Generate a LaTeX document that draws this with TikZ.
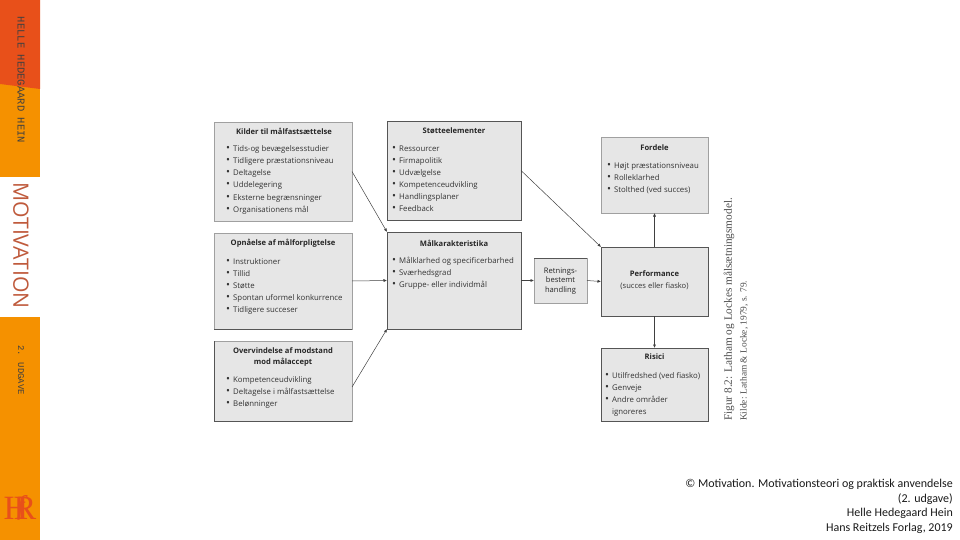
\documentclass[tikz,border=0pt]{standalone}
\usepackage{fontspec}
\setmainfont{Open Sans}
\newfontfamily\foot{Carlito}
\newfontfamily\capt{Liberation Serif}
\newfontfamily\spine{Liberation Mono}
\usetikzlibrary{arrows.meta}
\definecolor{sOrange}{HTML}{F59100}
\definecolor{sRed}{HTML}{E8501A}
\definecolor{sMotiv}{HTML}{BF5A3C}
\definecolor{boxFill}{HTML}{E6E6E6}
\definecolor{boxLine}{HTML}{555555}
\definecolor{boxSoft}{HTML}{A0A0A0}
\newcommand{\bl}{\makebox[7pt][l]{{\fontsize{10.5}{12}\selectfont\textbullet}}}
\tikzset{
  x=1pt,y=-1pt,
  fbox/.style={draw=boxLine,fill=boxFill,line width=0.7pt,inner sep=0pt,outer sep=0pt,anchor=north west},
  softbox/.style={fbox,draw=boxSoft},
  darkedge/.style={draw=boxLine,line width=1pt},
  head/.style={font=\fontsize{7.6}{11.5}\selectfont\bfseries,align=center,inner sep=0pt,text=black!85},
  items/.style={font=\fontsize{7.8}{12.1}\selectfont,align=left,inner sep=0pt,anchor=north west,text=black!80},
  conn/.style={draw=black!75,line width=0.5pt,-{Latex[length=3.5pt,width=3pt]}},
  spinetxt/.style={rotate=-90,inner sep=0pt,text=black!75}
}
\begin{document}
\begin{tikzpicture}
\useasboundingbox (0,0) rectangle (960,540);
% spine
\fill[sOrange] (0,0) rectangle (40,177);
\fill[sRed] (0,0) -- (40,0) -- (40,89) -- (0,84) -- cycle;
\fill[sOrange] (0,317) rectangle (40,540);
\node[spinetxt,font=\spine\fontsize{10.5}{12}\selectfont] (author) at (21,80) {HELLE HEDEGAARD HEIN};
\node[spinetxt,text=sMotiv,font=\fontsize{21.2}{24}\selectfont] (motiv) at (21,245.5) {MOTIVATION};
\node[spinetxt,font=\spine\fontsize{8.9}{10}\selectfont] (edition) at (21,370) {2. UDGAVE};
\node[inner sep=0pt,text=sRed,font=\capt\fontsize{34}{34}\selectfont] (logo) at (20,508) {H\kern-11pt\raisebox{5pt}{\itshape\fontsize{27}{27}\selectfont f}\kern-11pt R};
% boxes
\node[softbox,minimum width=138pt,minimum height=99pt] (kilder) at (214,122) {};
\node[fbox,minimum width=134pt,minimum height=99pt] (stotte) at (387,121) {};
\node[softbox,minimum width=138pt,minimum height=96pt] (opn) at (214,233) {};
\node[fbox,minimum width=134pt,minimum height=97pt] (mal) at (387,232) {};
\node[softbox,minimum width=138pt,minimum height=80pt] (over) at (214,341) {};
\node[softbox,minimum width=53pt,minimum height=45pt] (ret) at (534,258) {};
\node[softbox,minimum width=107pt,minimum height=76pt] (ford) at (601,137) {};
\node[fbox,minimum width=107pt,minimum height=69pt] (perf) at (601,247) {};
\node[fbox,minimum width=107pt,minimum height=73pt] (risk) at (601,348) {};
% darker edges
\draw[darkedge] (opn.south west) -- (opn.south east);
\draw[darkedge] (over.north west) -- (over.south west) -- (over.south east);
\draw[darkedge] (ret.north west) -- (ret.north east);
% headings
\node[head] (h1) at (284,131) {Kilder til målfastsættelse};
\node[head] (h2) at (454,131) {Støtteelementer};
\node[head] (h3) at (283,243) {Opnåelse af målforpligtelse};
\node[head] (h4) at (454,243) {Målkarakteristika};
\node[head] (h5) at (283,357) {Overvindelse af modstand\\mod målaccept};
\node[head,font=\fontsize{7.6}{9.7}\selectfont,text=black!85] (h6) at (560.5,281) {Retnings-\\bestemt\\handling};
\node[head] (h7) at (654.5,148) {Fordele};
\node[head] (h8) at (654.5,274) {Performance};
\node[head,font=\fontsize{7.6}{11}\selectfont,text=black!80] (h8b) at (654.5,286.5) {(succes eller fiasko)};
\node[head] (h9) at (654.5,357) {Risici};
% lists
\node[items] (l1) at (226,145.5) {\bl Tids-og bevægelsesstudier\\\bl Tidligere præstationsniveau\\\bl Deltagelse\\\bl Uddelegering\\\bl Eksterne begrænsninger\\\bl Organisationens mål};
\node[items] (l2) at (392,145.5) {\bl Ressourcer\\\bl Firmapolitik\\\bl Udvælgelse\\\bl Kompetenceudvikling\\\bl Handlingsplaner\\\bl Feedback};
\node[items] (l3) at (226,258) {\bl Instruktioner\\\bl Tillid\\\bl Støtte\\\bl Spontan uformel konkurrence\\\bl Tidligere succeser};
\node[items] (l4) at (392,257) {\bl Målklarhed og specificerbarhed\\\bl Sværhedsgrad\\\bl Gruppe- eller individmål};
\node[items] (l5) at (226,376) {\bl Kompetenceudvikling\\\bl Deltagelse i målfastsættelse\\\bl Belønninger};
\node[items] (l6) at (607,162.5) {\bl Højt præstationsniveau\\\bl Rolleklarhed\\\bl Stolthed (ved succes)};
\node[items] (l7) at (605,372) {\bl Utilfredshed (ved fiasko)\\\bl Genveje\\\bl Andre områder\\\hspace*{7pt}ignoreres};
% connectors
\draw[conn] (kilder.east) -- (mal.north west);
\draw[conn] (stotte.east) -- (perf.north west);
\draw[conn] (opn.east) -- (mal.west);
\draw[conn] ([yshift=-6pt]over.east) -- (mal.south west);
\draw[conn] (mal.east) -- (ret.west);
\draw[conn] (ret.east) -- (perf.west);
\draw[conn] (perf.north) -- (ford.south);
\draw[conn] (perf.south) -- (risk.north);
% caption
\node[rotate=90,anchor=west,inner sep=0pt,text=black!70,font=\capt\fontsize{11.3}{12}\selectfont] (cap1) at (729,421) {Figur 8.2: Latham og Lockes målsætningsmodel.};
\node[rotate=90,anchor=west,inner sep=0pt,text=black!70,font=\capt\fontsize{9.4}{11}\selectfont] (cap2) at (744,421) {Kilde: Latham \& Locke, 1979, s. 79.};
% footer
\node[anchor=north east,inner sep=0pt,align=right,text=black!90,font=\foot\fontsize{12}{14.7}\selectfont] (foot) at (953,479) {© Motivation. Motivationsteori og praktisk anvendelse\\(2. udgave)\\Helle Hedegaard Hein\\Hans Reitzels Forlag, 2019};
\end{tikzpicture}
\end{document}
